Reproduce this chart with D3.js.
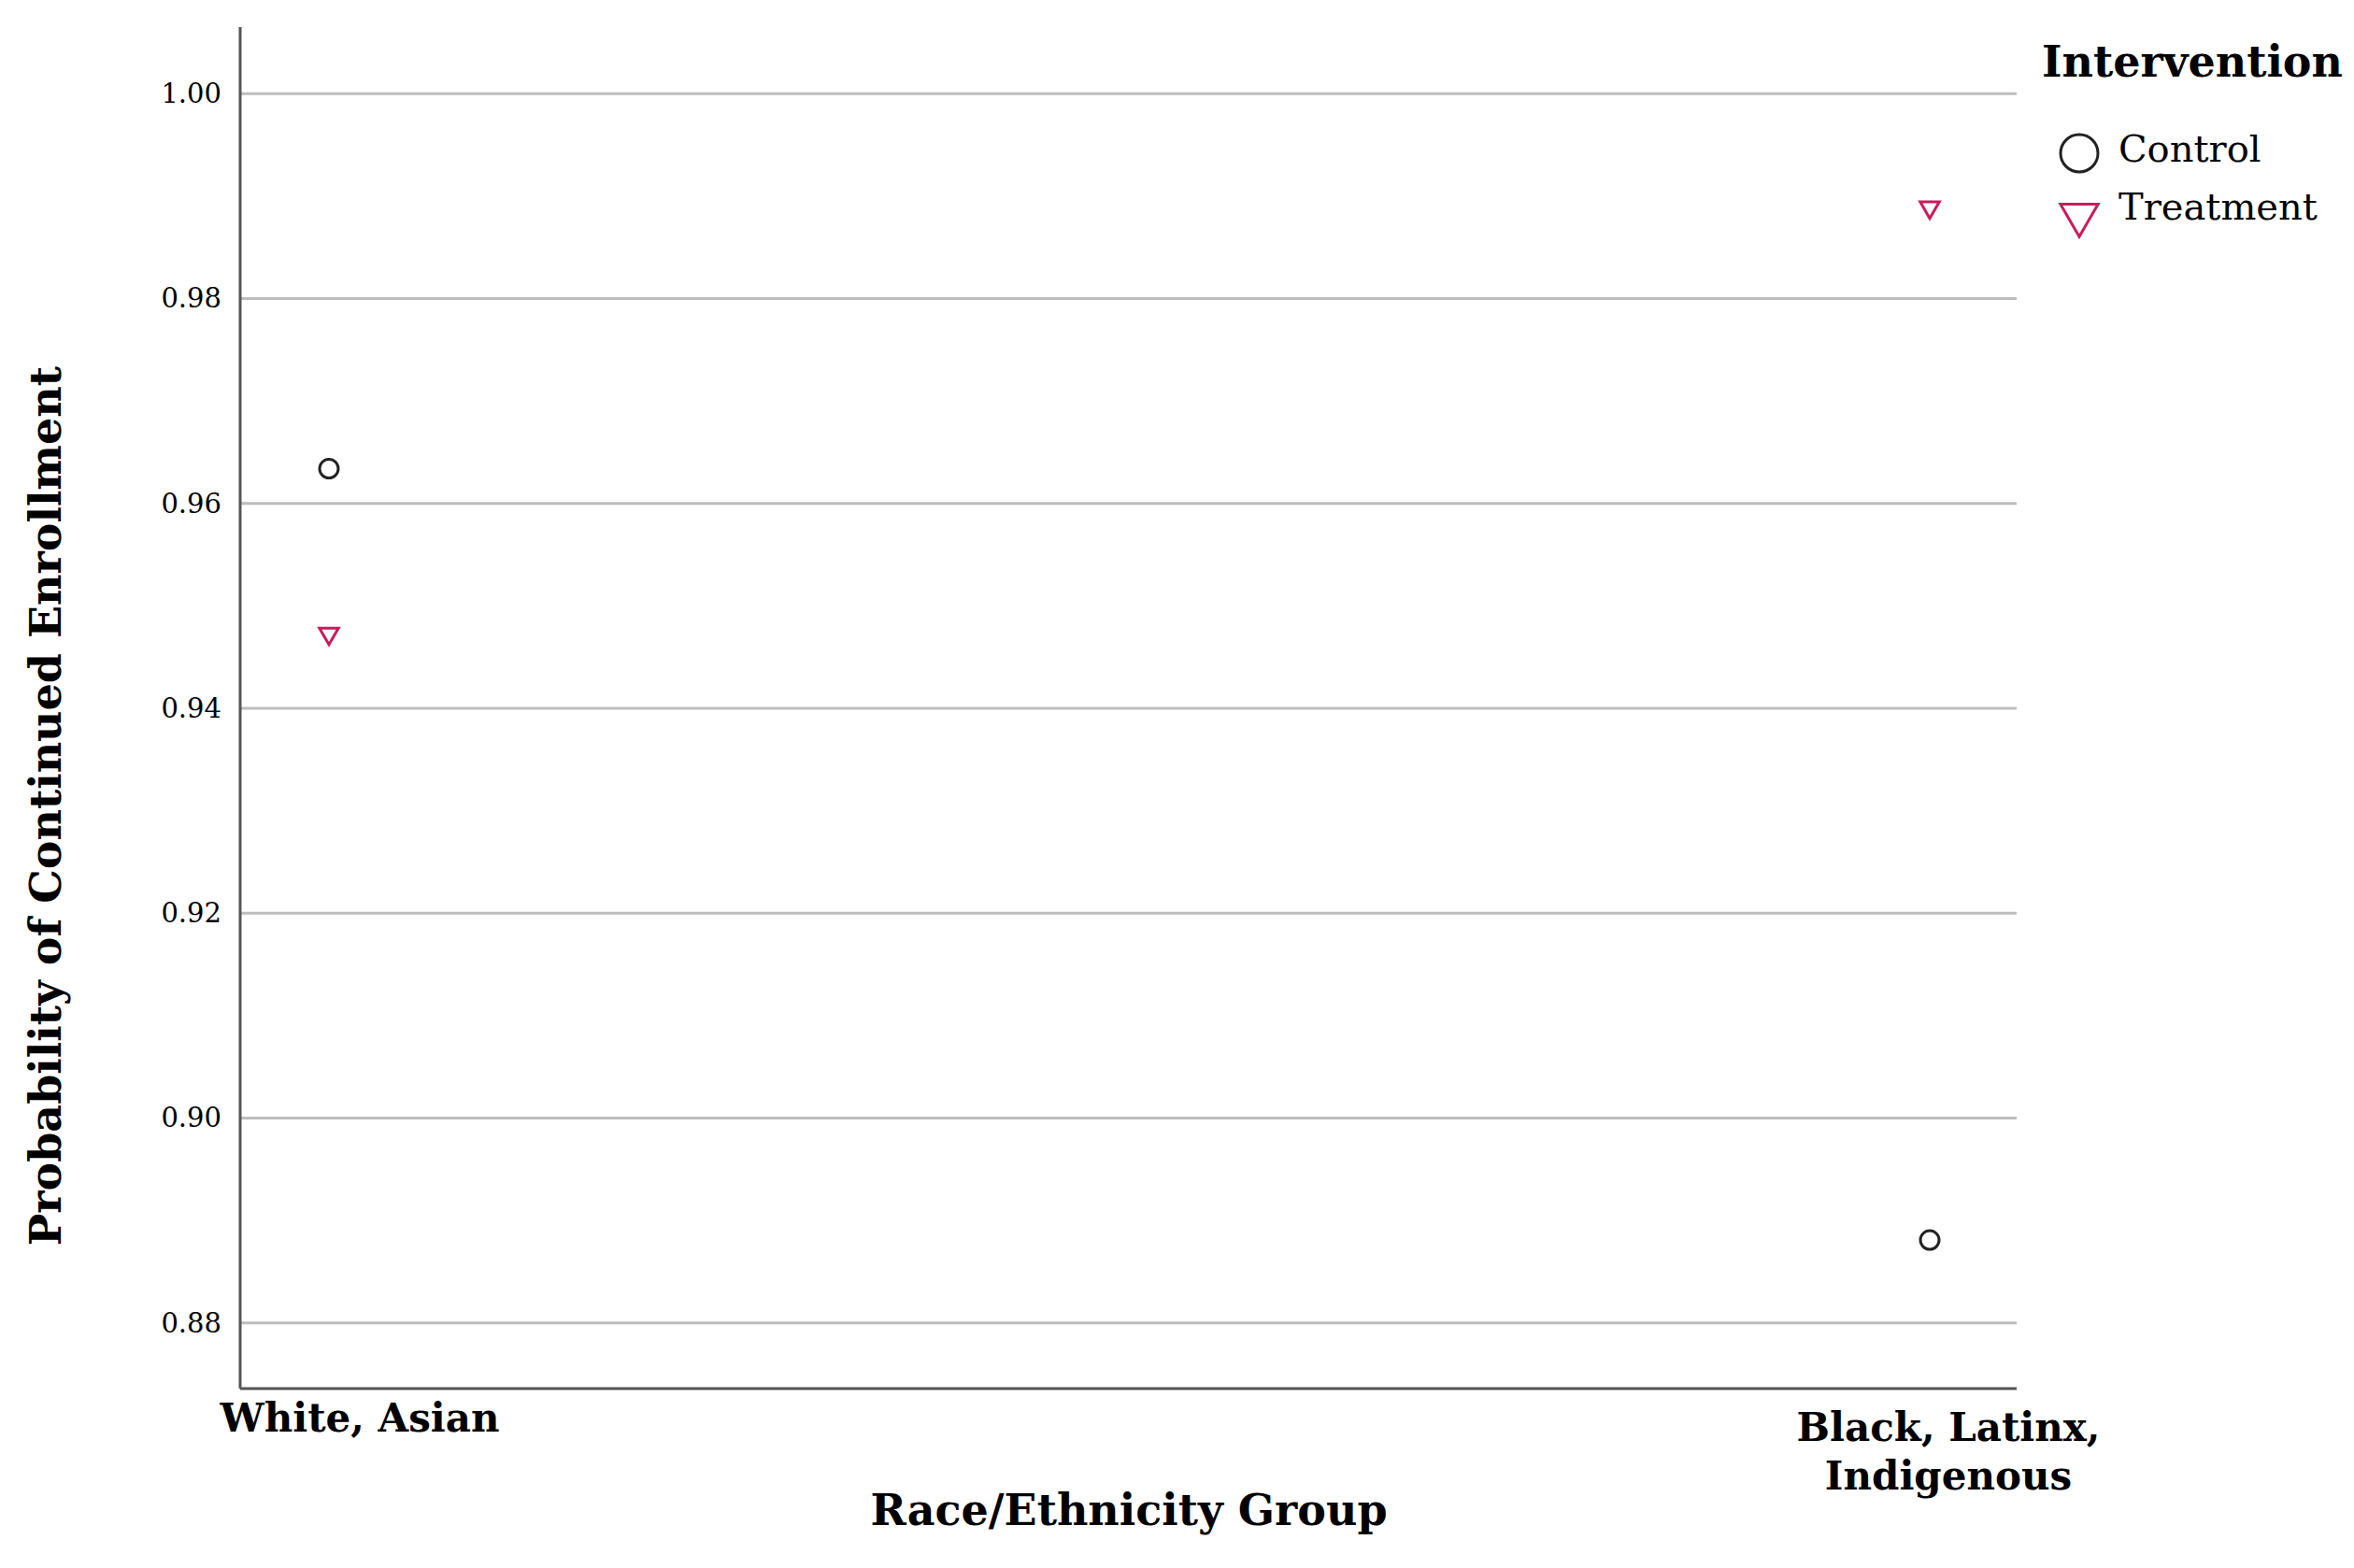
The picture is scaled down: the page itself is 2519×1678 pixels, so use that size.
<!DOCTYPE html>
<html>
<head>
<meta charset="utf-8">
<script src="https://cdnjs.cloudflare.com/ajax/libs/d3/7.8.5/d3.min.js"></script>
<style>
  body { margin: 0; background: #fff; }
  text { font-family: "DejaVu Serif", "Liberation Serif", serif; fill: #000; }
</style>
</head>
<body>
<svg id="chart" width="2519" height="1678"></svg>
<script>
var categories = ['White, Asian', 'Black, Latinx, Indigenous'];
var controlValues = [0.9634, 0.8881];
var treatmentValues = [0.9473, 0.9889];
var yTicks = [0.88, 0.90, 0.92, 0.94, 0.96, 0.98, 1.00];
var seriesNames = ['Control', 'Treatment'];
var seriesColors = ['#222222', '#cc1b5c'];

var svg = d3.select('#chart');
var plotLeft = 257, plotRight = 2158, plotTop = 29, plotBottom = 1486;

var x = d3.scalePoint().domain(categories).range([352, 2065]);
var y = d3.scaleLinear().domain([0.8736, 1.0065]).range([plotBottom, plotTop]);

// grid lines
svg.append('g').selectAll('line').data(yTicks).enter().append('line')
  .attr('x1', plotLeft).attr('x2', plotRight)
  .attr('y1', function (d) { return y(d); })
  .attr('y2', function (d) { return y(d); })
  .attr('stroke', '#bdbdbd').attr('stroke-width', 3);

// y axis
var yAxis = svg.append('g').attr('transform', 'translate(' + plotLeft + ',0)')
  .call(d3.axisLeft(y).tickValues(yTicks).tickSize(0).tickPadding(20).tickFormat(d3.format('.2f')));
yAxis.select('.domain').remove();
yAxis.selectAll('text').style('font-size', '29px').style('font-family', '"DejaVu Serif", serif');

svg.append('line').attr('x1', plotLeft).attr('x2', plotLeft).attr('y1', plotTop).attr('y2', plotBottom)
  .attr('stroke', '#555').attr('stroke-width', 3);
svg.append('line').attr('x1', plotLeft).attr('x2', plotRight).attr('y1', plotBottom).attr('y2', plotBottom)
  .attr('stroke', '#555').attr('stroke-width', 3);

// category labels
var catLines = [['White, Asian'], ['Black, Latinx,', 'Indigenous']];
var catDx = [33, 20];
categories.forEach(function (c, i) {
  var t = svg.append('text')
    .attr('text-anchor', 'middle')
    .attr('font-weight', 'bold')
    .style('font-size', '42px');
  catLines[i].forEach(function (line, j) {
    t.append('tspan')
      .attr('x', x(c) + catDx[i])
      .attr('y', (i === 0 ? 1532 : 1542) + j * 52)
      .text(line);
  });
});

// axis titles
svg.append('text').attr('x', 1208).attr('y', 1632)
  .attr('text-anchor', 'middle').attr('font-weight', 'bold')
  .style('font-size', '46px').text('Race/Ethnicity Group');
svg.append('text')
  .attr('transform', 'translate(65,' + (y(0.93) - 5) + ') rotate(-90)')
  .attr('text-anchor', 'middle').attr('font-weight', 'bold')
  .style('font-size', '46px').text('Probability of Continued Enrollment');

var tri = d3.symbol().type(d3.symbolTriangle);

function drawTriangle(g, size) {
  return g.append('path').attr('d', tri.size(size)())
    .attr('transform', 'rotate(180)')
    .attr('fill', 'none').attr('stroke', seriesColors[1]).attr('stroke-width', 3);
}

// control points
svg.append('g').selectAll('circle').data(controlValues).enter().append('circle')
  .attr('cx', function (d, i) { return x(categories[i]); })
  .attr('cy', function (d) { return y(d); })
  .attr('r', 10).attr('fill', 'none')
  .attr('stroke', seriesColors[0]).attr('stroke-width', 3);

// treatment points
treatmentValues.forEach(function (d, i) {
  var g = svg.append('g').attr('transform', 'translate(' + x(categories[i]) + ',' + y(d) + ')');
  drawTriangle(g, 180);
});

// legend
var lg = svg.append('g').attr('transform', 'translate(2185,0)');
lg.append('text').attr('x', 0).attr('y', 82).attr('font-weight', 'bold')
  .style('font-size', '46px').text('Intervention');
seriesNames.forEach(function (name, i) {
  var cy = 164 + i * 66;
  if (i === 0) {
    lg.append('circle').attr('cx', 40).attr('cy', cy).attr('r', 20)
      .attr('fill', 'none').attr('stroke', seriesColors[0]).attr('stroke-width', 3);
  } else {
    var g = lg.append('g').attr('transform', 'translate(40,' + cy + ')');
    drawTriangle(g, 700);
  }
  lg.append('text').attr('x', 82).attr('y', cy + (i === 0 ? 9 : 5))
    .style('font-size', '40px').text(name);
});
</script>
</body>
</html>
